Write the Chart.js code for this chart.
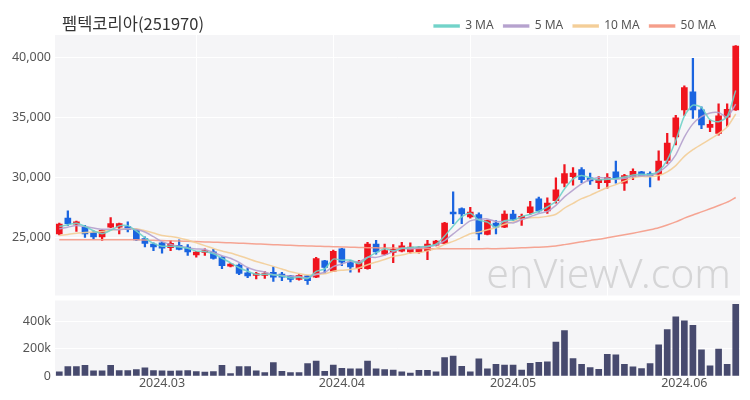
<!DOCTYPE html>
<html><head><meta charset="utf-8">
<script src="https://cdn.jsdelivr.net/npm/chart.js@4"></script>
<style>
html,body{margin:0;padding:0;background:#fff;}
#wrap{position:relative;width:750px;height:400px;overflow:hidden;}
#title{position:absolute;left:62px;top:11px;font:16.5px "Noto Sans CJK KR","Noto Sans",sans-serif;color:#333;white-space:nowrap;}
#c1{position:absolute;left:0;top:0;}
#c2{position:absolute;left:0;top:289px;}
</style></head><body>
<div id="wrap">
<canvas id="c1" width="750" height="307"></canvas>
<canvas id="c2" width="750" height="112"></canvas>
<div id="title">펨텍코리아(251970)</div>
</div>
<script>
const dates = ['2024-02-14','2024-02-15','2024-02-16','2024-02-19','2024-02-20','2024-02-21','2024-02-22','2024-02-23','2024-02-26','2024-02-27','2024-02-28','2024-02-29',
'2024-03-04','2024-03-05','2024-03-06','2024-03-07','2024-03-08','2024-03-11','2024-03-12','2024-03-13','2024-03-14','2024-03-15','2024-03-18','2024-03-19','2024-03-20','2024-03-21','2024-03-22','2024-03-25','2024-03-26','2024-03-27','2024-03-28','2024-03-29',
'2024-04-01','2024-04-02','2024-04-03','2024-04-04','2024-04-05','2024-04-08','2024-04-09','2024-04-11','2024-04-12','2024-04-15','2024-04-16','2024-04-17','2024-04-18','2024-04-19','2024-04-22','2024-04-23','2024-04-24','2024-04-25','2024-04-26','2024-04-29','2024-04-30',
'2024-05-02','2024-05-03','2024-05-07','2024-05-08','2024-05-09','2024-05-10','2024-05-13','2024-05-14','2024-05-16','2024-05-17','2024-05-20','2024-05-21','2024-05-22','2024-05-23','2024-05-24','2024-05-27','2024-05-28','2024-05-29','2024-05-30','2024-05-31',
'2024-06-03','2024-06-04','2024-06-05','2024-06-07','2024-06-10','2024-06-11','2024-06-12'];

const opens = [25300,26600,26100,25850,25400,25050,25850,25850,25900,25650,24900,24450,24550,24150,24350,24200,23550,23750,23800,23350,
22600,22700,22050,21850,21850,22100,21950,21800,21500,21800,21700,23050,22200,24050,22900,22400,22400,24450,23600,23750,
23850,23800,23800,23900,24350,24500,27100,27400,26700,26900,25250,26200,25850,26950,26600,27050,28200,27200,28050,29500,
30050,30650,29950,29550,29550,30450,29500,30050,30450,30300,30250,31400,33350,35600,37100,35600,34150,33650,35000,35600];
const highs = [26200,27200,26350,26000,25550,25650,26650,26200,26300,25700,25050,24550,24600,24750,24800,24400,23850,24050,24000,23400,
22850,22800,22450,22100,22150,22550,22100,21850,21900,21850,23350,23100,23950,24100,23100,23100,24600,24750,24450,24400,
24600,24550,24250,24750,24750,26250,28800,27450,27500,27050,26450,26400,27200,27250,26950,28000,28350,28300,29950,31050,
30800,30800,30350,30050,30300,31350,30250,30700,30500,30450,32200,33650,35150,37600,39900,35850,34750,36100,36100,40950];
const lows = [25200,26000,25500,25000,24850,24750,25800,25300,25450,24750,24200,23900,23700,23900,23950,23500,23350,23500,23200,22400,
22550,21900,21650,21550,21600,21350,21400,21300,21450,21100,21650,22000,22150,22650,22100,22100,22350,23600,23550,22900,
23800,23700,23700,23150,24300,24450,26150,26150,26600,24800,25200,25300,25800,26400,26000,26900,27100,27000,27850,29200,
29350,29550,29400,29050,29100,29500,28900,29800,30050,29200,29750,31150,32700,35150,34900,34050,33800,33500,34250,35550];
const closes = [26100,26150,26300,25300,25050,25580,26140,26150,25650,24800,24500,24200,24100,24500,24000,23800,23780,23900,23250,22650,
22780,22000,21800,22000,22000,21700,21700,21500,21850,21400,23250,22500,23850,22950,22550,22950,24450,23800,23900,24000,
24300,24200,24150,24450,24700,26200,26950,26950,27100,25300,26400,25850,26950,26500,26750,27550,27200,27850,28950,30300,
30350,29800,29700,29800,30000,29900,30150,30500,30100,30100,31350,32850,34950,37450,35600,34350,34400,35100,35650,40900];
const volumes = [30000,70000,70000,78000,38000,38000,78000,40000,40000,48000,60000,40000,38000,36000,38000,40000,32000,28000,32000,78000,
18000,70000,70000,38000,25000,99000,35000,25000,25000,91000,109000,35000,81000,57000,52000,52000,109000,52000,47000,44000,
30000,22000,42000,42000,30000,136000,146000,72000,30000,126000,52000,86000,81000,81000,44000,94000,101000,104000,250000,333000,
128000,86000,62000,49000,160000,156000,86000,67000,54000,91000,230000,341000,435000,405000,373000,193000,74000,198000,86000,526000];

const ma3 = [25900,26050,26180,25920,25550,25310,25590,25960,25980,25530,24980,24500,24270,24270,24200,24100,23860,23830,23640,23270,
22890,22480,22190,21930,21930,21900,21800,21630,21680,21580,22170,22380,23200,23100,23120,22820,23320,23730,24050,23900,
24070,24170,24220,24270,24430,25120,25950,26700,27000,26450,26270,25850,26400,26430,26730,26930,27170,27530,28000,29030,
29870,30150,29950,29770,29830,29900,30020,30180,30250,30230,30520,31430,33050,35080,36000,35800,34780,34620,35050,37220];
const ma5 = [25700,25850,26000,25900,25780,25680,25670,25640,25710,25660,25450,25060,24650,24420,24260,24120,24040,24000,23750,23480,
23270,22920,22500,22250,22120,21900,21840,21780,21750,21630,21940,22100,22570,22790,23020,22960,23350,23340,23530,23820,
24090,24040,24110,24220,24360,24740,25290,25850,26380,26500,26540,26320,26320,26200,26490,26720,26990,27170,27660,28370,
28930,29450,29820,29990,29930,29840,29910,30070,30130,30150,30440,30980,31870,33340,34440,35040,35350,35380,35020,36080];
const ma10 = [25150,25250,25350,25400,25450,25500,25600,25680,25720,25720,25560,25370,25150,25070,24960,24780,24550,24320,24080,23870,
23700,23480,23250,23000,22800,22590,22380,22140,22000,21870,21920,21970,22180,22270,22330,22450,22730,22960,23160,23420,
23530,23700,23730,23880,24090,24420,24670,24980,25300,25430,25640,25810,26090,26290,26500,26630,26660,26750,26930,27430,
27830,28220,28500,28830,29150,29390,29680,29950,30060,30040,30140,30450,30970,31740,32300,32740,33170,33630,34180,35260];
const ma50 = [24800,24800,24800,24800,24800,24800,24800,24800,24800,24800,24780,24760,24740,24720,24700,24680,24650,24620,24600,24580,
24550,24520,24490,24460,24430,24400,24370,24340,24310,24290,24270,24250,24230,24210,24190,24170,24150,24130,24120,24110,
24100,24090,24080,24070,24060,24060,24060,24060,24060,24060,24070,24060,24080,24100,24130,24170,24190,24230,24290,24400,
24520,24630,24750,24850,24970,25090,25220,25350,25490,25640,25810,26030,26290,26600,26870,27120,27380,27650,27930,28320];

const priceTicks = [25000,30000,35000,40000];
const volumeTicks = [0,200000,400000];
const monthTickIdx = [12,33,53,73];
const monthTickText = ['2024.03','2024.04','2024.05','2024.06'];
const gridIdx = [16,32,48,64];

const UP = '#f0141e', DOWN = '#1a64e0';
const candleColors = closes.map((c,i)=> c >= opens[i] ? UP : DOWN);
const FONT = {family:'"Noto Sans", "DejaVu Sans", sans-serif', size:12.5};

const bgPlugin = {
  id:'bg',
  beforeDraw(chart){
    const {ctx, chartArea:a} = chart;
    ctx.save(); ctx.fillStyle = '#f5f5f7';
    ctx.fillRect(a.left, a.top, a.right-a.left, a.bottom-a.top);
    ctx.restore();
  }
};
const wmPlugin = {
  id:'wm',
  beforeDatasetsDraw(chart){
    const {ctx, chartArea:a} = chart;
    ctx.save();
    ctx.font = '300 41px "Noto Sans", "DejaVu Sans", sans-serif';
    ctx.fillStyle = 'rgba(150,150,150,0.33)';
    ctx.textAlign = 'right'; ctx.textBaseline = 'alphabetic';
    ctx.fillText('enViewV.com', a.right - 9, a.bottom - 8);
    ctx.restore();
  }
};
const legendTune = {
  id:'legendTune',
  beforeLayout(chart){
    const lg = chart.legend;
    if (lg && !lg._tuned){
      const orig = lg.fit.bind(lg);
      lg.fit = function(){ orig(); this.height = Math.max(0, this.height - 6); };
      lg._tuned = true;
    }
  },
  afterLayout(chart){
    if (chart.legend) { chart.legend.right -= 14; chart.legend.top += 1; }
  }
};

Chart.defaults.font.family = FONT.family;
Chart.defaults.color = '#555';

const lineDs = (label, data, color) => ({
  type:'line', label, data, borderColor:color, backgroundColor:color,
  borderWidth:1.5, pointRadius:0, tension:0.25, order:0
});

new Chart(document.getElementById('c1'), {
  type:'bar',
  data:{
    labels: dates,
    datasets:[
      lineDs('3 MA', ma3, 'rgba(110,210,200,0.9)'),
      lineDs('5 MA', ma5, 'rgba(180,160,205,0.9)'),
      lineDs('10 MA', ma10, 'rgba(243,205,150,0.9)'),
      lineDs('50 MA', ma50, 'rgba(245,155,135,0.9)'),
      {label:'wick', data: lows.map((l,i)=>[l, highs[i]]), backgroundColor:candleColors,
       barThickness:1.6, grouped:false, order:2},
      {label:'body', data: opens.map((o,i)=>[o, closes[i]]), backgroundColor:candleColors,
       barThickness:6, grouped:false, minBarLength:1, order:1}
    ]
  },
  options:{
    responsive:false, animation:false,
    layout:{padding:{left:0,right:10,top:9,bottom:3}},
    plugins:{
      tooltip:{enabled:false},
      legend:{
        position:'top', align:'end',
        labels:{
          filter: item => item.datasetIndex < 4,
          boxWidth:25, boxHeight:2, padding:10,
          font:{family:FONT.family, size:12}, color:'#555'
        }
      }
    },
    scales:{
      x:{
        offset:true,
        ticks:{display:false, autoSkip:false},
        grid:{offset:false, drawTicks:false, color: c => gridIdx.includes(c.index) ? '#ffffff' : 'rgba(0,0,0,0)', lineWidth:1},
        border:{display:false},
        afterFit: s => { s.height = 0; }
      },
      y:{
        min:20170, max:41830,
        afterBuildTicks: s => { s.ticks = priceTicks.map(v=>({value:v})); },
        ticks:{callback: v => v.toLocaleString('en-US'), font:FONT, color:'#555', padding:4},
        grid:{color:'#ffffff', drawTicks:false, lineWidth:1},
        border:{display:false},
        afterFit: s => { s.width = 55; }
      }
    }
  },
  plugins:[bgPlugin, wmPlugin, legendTune]
});

new Chart(document.getElementById('c2'), {
  type:'bar',
  data:{
    labels: dates,
    datasets:[{label:'Volume', data: volumes, backgroundColor:'#474a6e', barThickness:6}]
  },
  options:{
    responsive:false, animation:false,
    layout:{padding:{left:0,right:10,top:4,bottom:3}},
    plugins:{tooltip:{enabled:false}, legend:{display:false}},
    scales:{
      x:{
        offset:true,
        ticks:{autoSkip:false, maxRotation:0, padding:0, font:FONT, color:'#555',
          callback:(v,i)=>{ const k = monthTickIdx.indexOf(i); return k>=0 ? monthTickText[k] : ''; }},
        grid:{display:false, drawTicks:false, tickLength:0},
        border:{display:false},
        afterFit: s => { s.height = 22; }
      },
      y:{
        min:0, max:555000,
        afterBuildTicks: s => { s.ticks = volumeTicks.map(v=>({value:v})); },
        ticks:{callback: v => v===0 ? '0' : (v/1000)+'k', font:FONT, color:'#555', padding:4},
        grid:{color:'#ffffff', drawTicks:false},
        border:{display:false},
        afterFit: s => { s.width = 55; }
      }
    }
  },
  plugins:[bgPlugin]
});
</script>
</body></html>
